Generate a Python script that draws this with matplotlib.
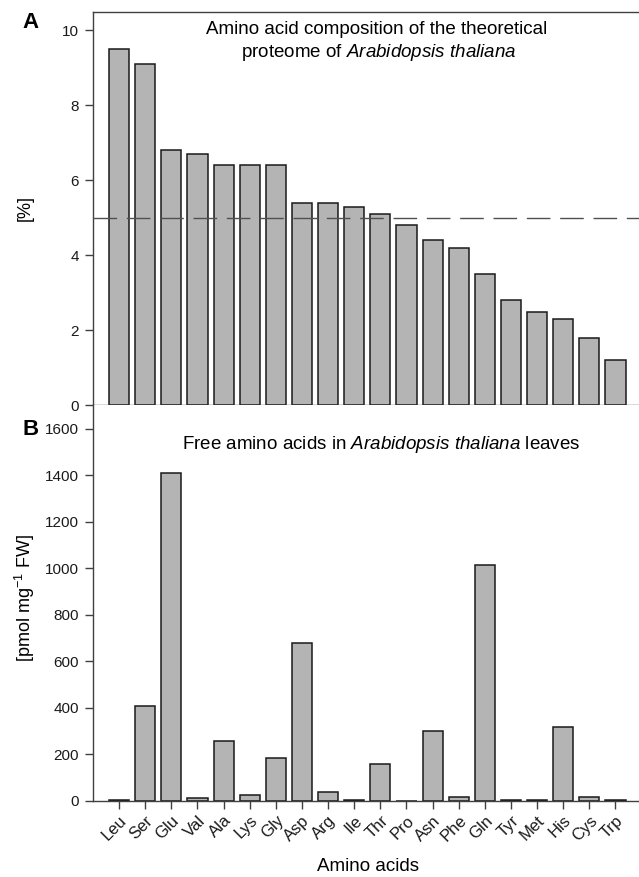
import matplotlib
matplotlib.use("Agg")
import matplotlib.pyplot as plt
import numpy as np

plt.rcParams['font.family'] = ['Liberation Sans', 'DejaVu Sans']
plt.rcParams['mathtext.fontset'] = 'custom'
plt.rcParams['mathtext.rm'] = 'Liberation Sans'
plt.rcParams['mathtext.it'] = 'Liberation Sans:italic'
plt.rcParams['mathtext.bf'] = 'Liberation Sans:bold'

amino_acids = ["Leu", "Ser", "Glu", "Val", "Ala", "Lys", "Gly", "Asp", "Arg", "Ile",
               "Thr", "Pro", "Asn", "Phe", "Gln", "Tyr", "Met", "His", "Cys", "Trp"]
proteome_pct = [9.5, 9.1, 6.8, 6.7, 6.4, 6.4, 6.4, 5.4, 5.4, 5.3,
                5.1, 4.8, 4.4, 4.2, 3.5, 2.8, 2.5, 2.3, 1.8, 1.2]
free_pmol = [6, 410, 1410, 12, 260, 25, 185, 678, 37, 4,
             158, 0, 301, 19, 1015, 4, 5, 320, 16, 4]
threshold = 5.0
yticks_a = [0, 2, 4, 6, 8, 10]
yticks_b = [0, 200, 400, 600, 800, 1000, 1200, 1400, 1600]

W, H = 639, 877
fig = plt.figure(figsize=(W / 100, H / 100), dpi=100)
left = 93 / W
axA = fig.add_axes([left, 1 - 405.5 / H, 1 - left, (405.5 - 11.7) / H])
axB = fig.add_axes([left, 1 - 801 / H, 1 - left, (801 - 405.5) / H])

def fx(px):
    return px / W

def fy(py):
    return 1 - py / H

x = np.arange(len(amino_acids))
bar_kw = dict(width=0.77, color='#b4b4b4', edgecolor='#1a1a1a', linewidth=1.1, zorder=2)
spine_c = '#404040'

for ax in (axA, axB):
    ax.set_xlim(-1, 19.9)
    ax.spines['right'].set_visible(False)
    for s in ax.spines.values():
        s.set_color(spine_c)
        s.set_linewidth(1.0)
    ax.tick_params(direction='out', length=6, width=1.0, color=spine_c,
                   labelsize=11, labelcolor='#1a1a1a', pad=4)
    ax.set_xticks(x)

# Panel A
axA.bar(x, proteome_pct, **bar_kw)
axA.axhline(threshold, color='#505050', linewidth=1.0, dashes=(17, 7), zorder=3)
axA.set_ylim(0, 10.5)
axA.set_yticks(yticks_a)
axA.set_xticklabels([])
fig.text(fx(25), fy(208), '[%]', fontsize=13, rotation=90, ha='center', va='center')
fig.text(fx(377), fy(34), 'Amino acid composition of the theoretical',
         ha='center', va='baseline', fontsize=13.5)
fig.text(fx(379), fy(57), 'proteome of $\\it{Arabidopsis\\ thaliana}$',
         ha='center', va='baseline', fontsize=13.5)
fig.text(fx(22), fy(23), 'A', fontsize=16, fontweight='bold', ha='left', va='center')

# Panel B
axB.bar(x, free_pmol, **bar_kw)
axB.set_ylim(0, 1700)
axB.set_yticks(yticks_b)
axB.spines['top'].set_visible(False)
axB.tick_params(axis='x', pad=2.5, labelsize=12)
axB.set_xticklabels(amino_acids, rotation=45, ha='right', rotation_mode='anchor')
fig.text(fx(25), fy(598), '[pmol mg$^{-1}$ FW]', fontsize=13, rotation=90,
         ha='center', va='center')
fig.text(fx(368), fy(871), 'Amino acids', fontsize=13.5, ha='center', va='baseline')
fig.text(fx(381), fy(449), 'Free amino acids in $\\it{Arabidopsis\\ thaliana}$ leaves',
         ha='center', va='baseline', fontsize=13.5)
fig.text(fx(22), fy(429.5), 'B', fontsize=16, fontweight='bold', ha='left', va='center')

fig.savefig('out.png', dpi=100)
